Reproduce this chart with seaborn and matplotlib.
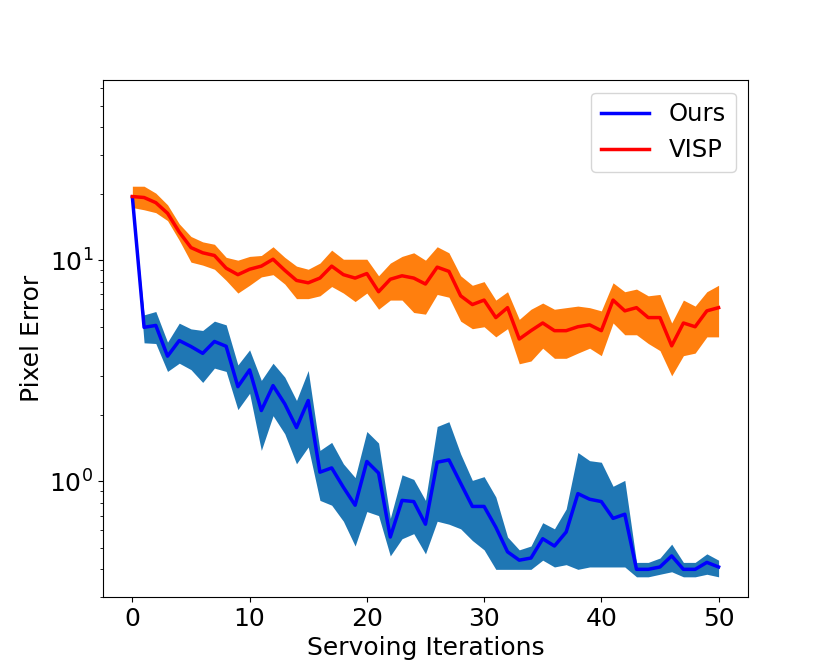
import numpy as np
import pandas as pd
import matplotlib
matplotlib.use("Agg")
import matplotlib.pyplot as plt
import seaborn as sns

iterations = list(range(51))

visp_mean = [19.4, 19.2, 18.2, 16.3, 13.4, 11.4, 10.8, 10.5, 9.2, 8.6, 9.1, 9.4, 10.1, 9.0, 8.1, 7.9, 8.3, 9.4, 8.6, 8.3,
             8.7, 7.2, 8.2, 8.5, 8.3, 7.8, 9.3, 8.9, 6.9, 6.3, 6.6, 5.5, 6.1, 4.4, 4.8, 5.2, 4.8, 4.8, 5.0, 5.1,
             4.8, 6.6, 5.9, 6.1, 5.5, 5.5, 4.1, 5.2, 5.0, 5.9, 6.1]
visp_upper = [21.6, 21.6, 20.1, 17.8, 14.6, 12.8, 12.1, 11.8, 10.3, 10.0, 10.4, 10.5, 11.5, 10.3, 9.4, 9.1, 9.7, 11.1, 10.1, 10.1,
              10.1, 8.5, 9.7, 10.4, 10.8, 10.0, 11.5, 10.8, 8.5, 7.7, 8.0, 6.6, 7.2, 5.4, 6.0, 6.4, 6.0, 6.1, 6.2, 6.1,
              5.9, 7.9, 7.2, 7.4, 6.9, 7.0, 5.2, 6.6, 6.2, 7.2, 7.7]
visp_lower = [17.3, 16.9, 16.4, 15.1, 12.3, 9.8, 9.5, 9.1, 8.1, 7.1, 7.7, 8.4, 8.6, 7.8, 6.7, 6.7, 6.9, 7.6, 7.1, 6.5,
              7.1, 6.0, 6.6, 6.6, 5.8, 5.7, 7.0, 6.8, 5.3, 4.9, 5.0, 4.5, 4.9, 3.4, 3.5, 4.0, 3.6, 3.6, 3.8, 4.0,
              3.7, 5.2, 4.6, 4.6, 4.2, 3.9, 3.0, 3.7, 3.8, 4.5, 4.5]

ours_mean = [19.3, 4.97, 5.07, 3.68, 4.33, 4.07, 3.79, 4.29, 4.08, 2.68, 3.19, 2.09, 2.71, 2.24, 1.75, 2.32, 1.10, 1.15, 0.94, 0.78,
             1.23, 1.09, 0.56, 0.82, 0.81, 0.64, 1.22, 1.25, 0.98, 0.77, 0.77, 0.62, 0.48, 0.44, 0.45, 0.55, 0.51, 0.59, 0.88, 0.83,
             0.81, 0.68, 0.71, 0.40, 0.40, 0.41, 0.46, 0.40, 0.40, 0.43, 0.41]
ours_upper = [19.3, 5.66, 5.86, 4.26, 5.19, 4.89, 4.81, 5.30, 5.10, 3.36, 3.93, 2.86, 3.42, 2.96, 2.32, 3.17, 1.38, 1.50, 1.20, 1.04,
              1.68, 1.49, 0.68, 1.07, 1.02, 0.82, 1.77, 1.86, 1.33, 1.01, 1.05, 0.85, 0.56, 0.49, 0.51, 0.65, 0.61, 0.75, 1.35, 1.24,
              1.22, 0.95, 1.01, 0.43, 0.43, 0.45, 0.52, 0.43, 0.43, 0.47, 0.44]
ours_lower = [19.3, 4.23, 4.20, 3.14, 3.42, 3.20, 2.80, 3.25, 3.14, 2.11, 2.50, 1.38, 1.98, 1.64, 1.20, 1.43, 0.82, 0.78, 0.66, 0.51,
              0.73, 0.70, 0.46, 0.55, 0.58, 0.47, 0.66, 0.64, 0.61, 0.54, 0.49, 0.40, 0.40, 0.40, 0.40, 0.44, 0.41, 0.42, 0.40, 0.41,
              0.41, 0.41, 0.41, 0.37, 0.37, 0.38, 0.39, 0.37, 0.37, 0.38, 0.37]

df = pd.DataFrame({
    "iter": iterations,
    "ours": ours_mean, "ours_lo": ours_lower, "ours_hi": ours_upper,
    "visp": visp_mean, "visp_lo": visp_lower, "visp_hi": visp_upper,
})

fig, ax = plt.subplots(figsize=(8.31, 6.70), dpi=100)
fig.subplots_adjust(left=0.124, right=0.9, top=0.88, bottom=0.109)

ax.fill_between(df["iter"], df["visp_lo"], df["visp_hi"], color="#ff7f0e", linewidth=0)
ax.fill_between(df["iter"], df["ours_lo"], df["ours_hi"], color="#1f77b4", linewidth=0)
sns.lineplot(data=df, x="iter", y="ours", ax=ax, color="blue", linewidth=2.5, label="Ours")
sns.lineplot(data=df, x="iter", y="visp", ax=ax, color="red", linewidth=2.5, label="VISP")

ax.set_yscale("log")
ax.set_ylim(0.30, 65)
ax.set_xlim(-2.5, 52.5)
ax.set_xticks([0, 10, 20, 30, 40, 50])
ax.set_xlabel("Servoing Iterations", fontsize=18)
ax.set_ylabel("Pixel Error", fontsize=18)
ax.tick_params(axis="both", which="major", labelsize=18)
ax.legend(loc="upper right", fontsize=17.5)

fig.savefig("out.png", dpi=100)
